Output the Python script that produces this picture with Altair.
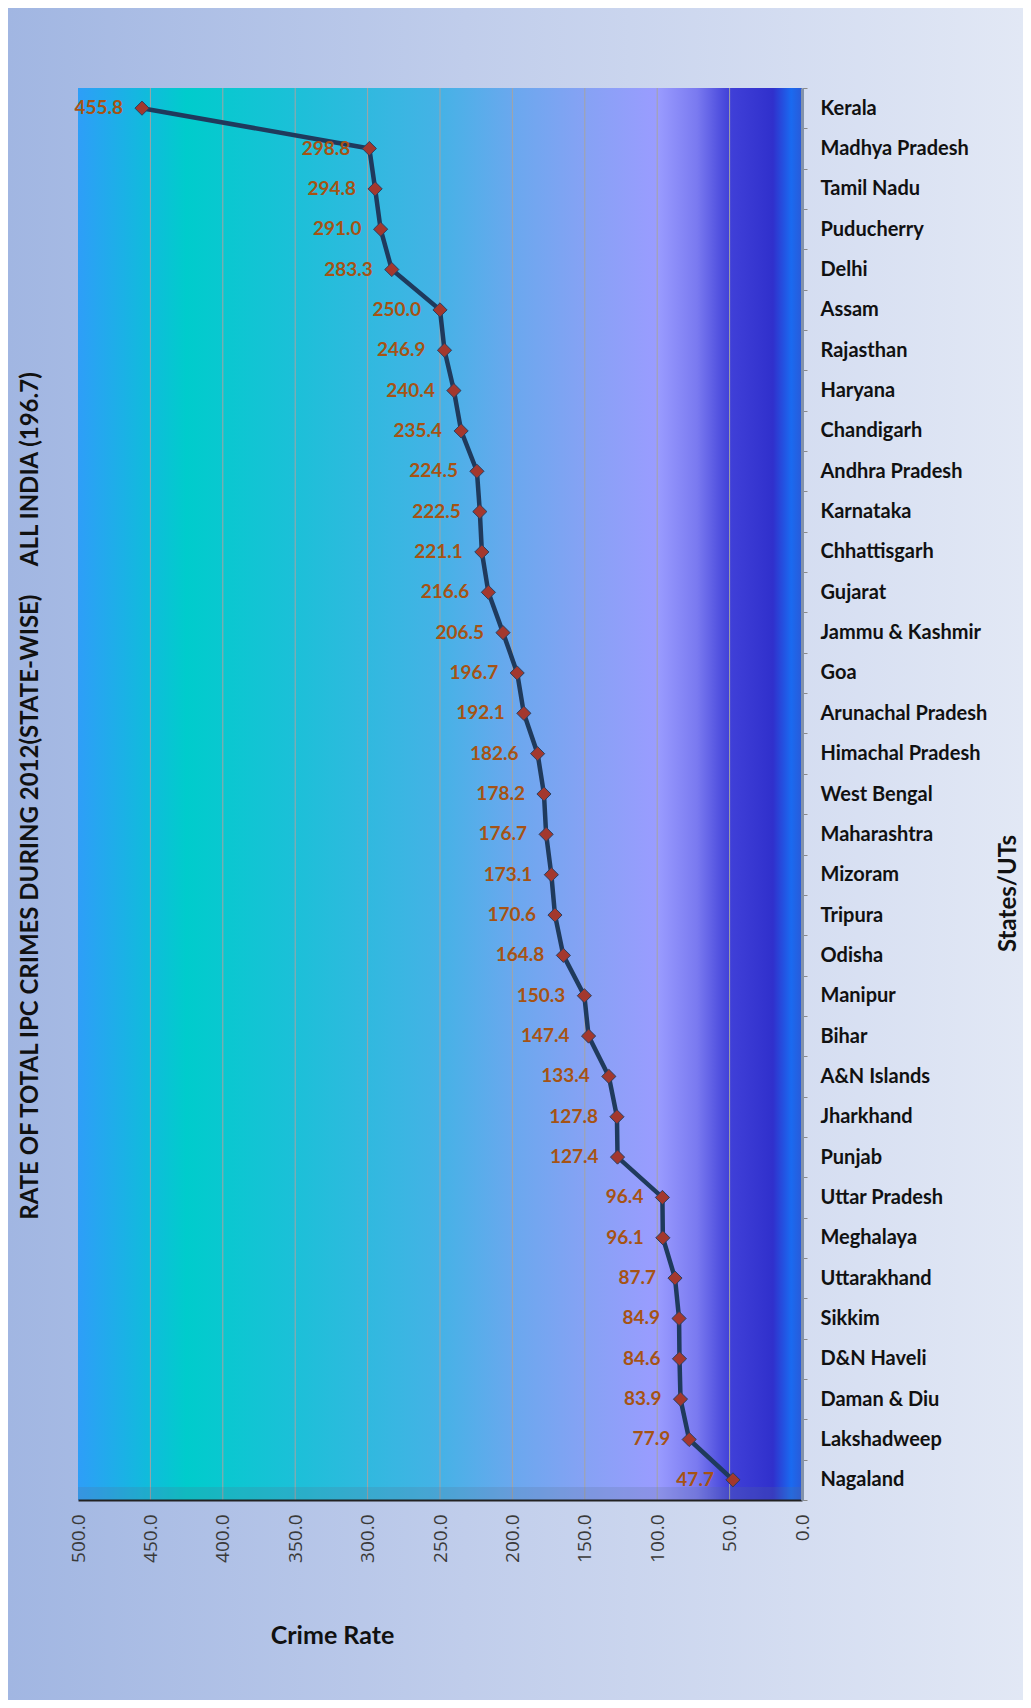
import altair as alt
import pandas as pd

states = ["Kerala", "Madhya Pradesh", "Tamil Nadu", "Puducherry", "Delhi", "Assam",
          "Rajasthan", "Haryana", "Chandigarh", "Andhra Pradesh", "Karnataka",
          "Chhattisgarh", "Gujarat", "Jammu & Kashmir", "Goa", "Arunachal Pradesh",
          "Himachal Pradesh", "West Bengal", "Maharashtra", "Mizoram", "Tripura",
          "Odisha", "Manipur", "Bihar", "A&N Islands", "Jharkhand", "Punjab",
          "Uttar Pradesh", "Meghalaya", "Uttarakhand", "Sikkim", "D&N Haveli",
          "Daman & Diu", "Lakshadweep", "Nagaland"]
rates = [455.8, 298.8, 294.8, 291.0, 283.3, 250.0, 246.9, 240.4, 235.4, 224.5, 222.5,
         221.1, 216.6, 206.5, 196.7, 192.1, 182.6, 178.2, 176.7, 173.1, 170.6, 164.8,
         150.3, 147.4, 133.4, 127.8, 127.4, 96.4, 96.1, 87.7, 84.9, 84.6, 83.9, 77.9, 47.7]
tick_values = [0, 50, 100, 150, 200, 250, 300, 350, 400, 450, 500]
grid_values = [50, 100, 150, 200, 250, 300, 350, 400, 450]
title_text = "RATE OF TOTAL IPC CRIMES DURING 2012(STATE-WISE)\u00a0\u00a0\u00a0\u00a0\u00a0ALL INDIA (196.7)"

W, H = 724, 1412
PAD = {"left": 70, "top": 80, "right": 221, "bottom": 200}

df = pd.DataFrame({"state": states, "rate": rates, "order": list(range(len(states)))})
grid_df = pd.DataFrame({"rate": grid_values})
one = pd.DataFrame({"t": [title_text]})

x_scale = alt.Scale(domain=[0, 500], reverse=True, nice=False, zero=True)
y_scale = alt.Scale(type="band", domain=states, paddingInner=0, paddingOuter=0)

x_axis = alt.Axis(values=tick_values, format=".1f", labelAngle=270, labelFont="Open Sans",
                  labelFontSize=19, labelColor="#3a3a3a", labelPadding=14, ticks=False,
                  tickSize=0, grid=False, domainColor="#222222", domainWidth=2,
                  title="Crime Rate", titleFont="Lato", titleFontSize=25,
                  titleFontWeight="bold", titleColor="#111111", titleX=254, titleY=135,
                  titleAlign="center", titleBaseline="middle", zindex=1)
y_axis = alt.Axis(orient="right", labelFont="Lato", labelFontSize=20, labelFontWeight="bold",
                  labelColor="#111111", labelPadding=13, labelAlign="left",
                  tickBand="extent", tickSize=5, tickColor="#8a8a8a", domainColor="#8393ab",
                  domainWidth=3, grid=False, title="States/UTs", titleFont="Lato",
                  titleFontSize=24, titleFontWeight="bold", titleColor="#111111",
                  titleAngle=270, titleX=206, titleY=805, titleAlign="center",
                  titleBaseline="middle", zindex=1)

bg_grad = alt.LinearGradient(gradient="linear", x1=0, x2=1, y1=0, y2=0, stops=[
    alt.GradientStop(offset=0, color="#a1b6e2"),
    alt.GradientStop(offset=0.45, color="#c0cdeb"),
    alt.GradientStop(offset=1, color="#e2e8f5"),
])
plot_grad = alt.LinearGradient(gradient="linear", x1=0, x2=1, y1=0, y2=0, stops=[
    alt.GradientStop(offset=0, color="#2e9ef8"),
    alt.GradientStop(offset=0.15, color="#00cccc"),
    alt.GradientStop(offset=0.3, color="#1cc0d8"),
    alt.GradientStop(offset=0.5, color="#45b2e6"),
    alt.GradientStop(offset=0.6, color="#6aa8ee"),
    alt.GradientStop(offset=0.7, color="#86a2f4"),
    alt.GradientStop(offset=0.8, color="#9a9cff"),
    alt.GradientStop(offset=0.855, color="#7a7af0"),
    alt.GradientStop(offset=0.9, color="#4040d8"),
    alt.GradientStop(offset=0.96, color="#3030cc"),
    alt.GradientStop(offset=0.985, color="#1a6af0"),
    alt.GradientStop(offset=1, color="#2a5ad8"),
])

bg = alt.Chart(one).mark_rect(fill=bg_grad).encode(
    x=alt.value(-PAD["left"]), x2=alt.value(W + PAD["right"]),
    y=alt.value(-PAD["top"]), y2=alt.value(H + PAD["bottom"]))
plot_bg = alt.Chart(one).mark_rect(fill=plot_grad).encode(
    x=alt.value(0), x2=alt.value(W), y=alt.value(0), y2=alt.value(H))
floor = alt.Chart(one).mark_rect(fill="#5a6e8c", opacity=0.2).encode(
    x=alt.value(0), x2=alt.value(W), y=alt.value(H - 13), y2=alt.value(H))
grid = alt.Chart(grid_df).mark_rule(color="#a4a4a4", strokeWidth=1).encode(
    x=alt.X("rate:Q", scale=x_scale, axis=x_axis))

base = alt.Chart(df).encode(
    x=alt.X("rate:Q", scale=x_scale, axis=x_axis),
    y=alt.Y("state:N", scale=y_scale, axis=y_axis, sort=states),
)
line = base.mark_line(color="#1f3a5c", strokeWidth=4.5).encode(order=alt.Order("order:Q"))
pts = base.mark_point(shape="diamond", filled=True, fill="#a3382e", stroke="#2a3f5f",
                      strokeWidth=1, size=200, opacity=1)
labels = base.mark_text(align="right", baseline="middle", dx=-19, font="Lato",
                        fontSize=19, fontWeight="bold", color="#a65314").encode(
    text=alt.Text("rate:Q", format=".1f"))
side_title = alt.Chart(one).mark_text(angle=270, align="center", baseline="middle",
                                      font="Lato", fontSize=24, fontWeight="bold",
                                      color="#111111").encode(
    x=alt.value(-47), y=alt.value(708), text="t:N")

chart = alt.layer(bg, plot_bg, grid, floor, line, pts, labels, side_title).properties(
    width=W, height=H, autosize=alt.AutoSizeParams(type="none"), padding=PAD,
    background="#ffffff",
).configure_view(stroke=None)

chart.save("out.html", embed_options={"renderer": "svg", "actions": False})
